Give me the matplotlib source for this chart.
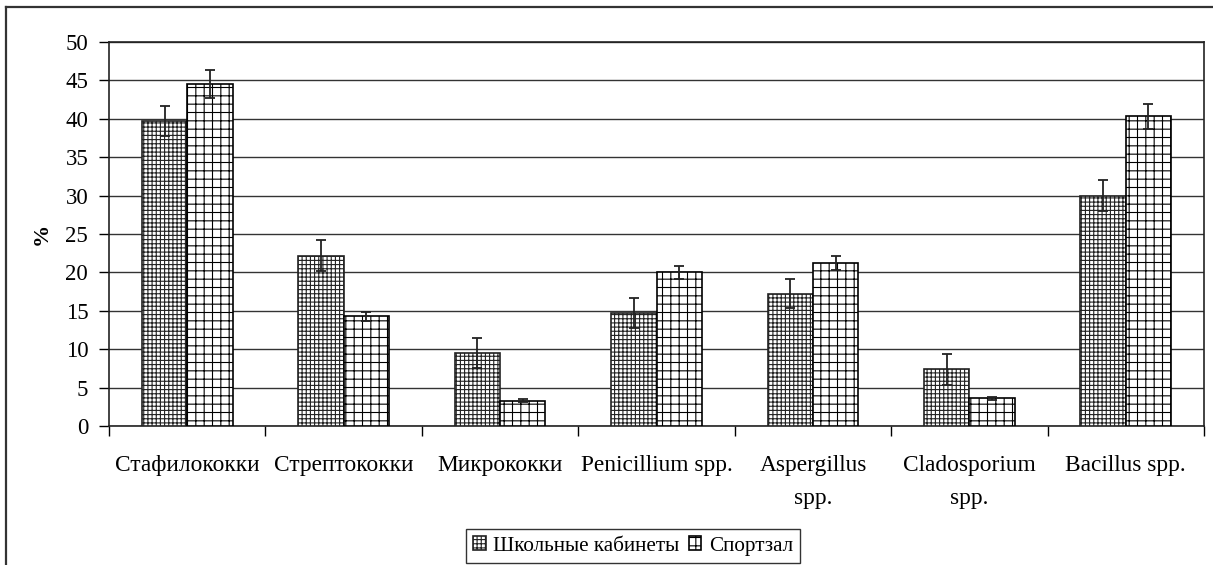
import numpy as np
import matplotlib
matplotlib.use("Agg")
import matplotlib.pyplot as plt
from matplotlib.lines import Line2D

# Доля микроорганизмов в воздухе помещений, %
categories = ["Стафилококки", "Стрептококки", "Микрококки", "Penicillium spp.",
              "Aspergillus\nspp.", "Cladosporium\nspp.", "Bacillus spp."]
school = [39.7, 22.2, 9.5, 14.7, 17.2, 7.4, 30.0]
school_err = [2.0, 2.0, 2.0, 2.0, 1.9, 2.0, 2.0]
gym = [44.5, 14.3, 3.3, 20.0, 21.2, 3.6, 40.3]
gym_err = [1.8, 0.6, 0.2, 0.8, 0.9, 0.2, 1.6]
series_names = ["Школьные кабинеты", "Спортзал"]

plt.rcParams['font.family'] = ['Liberation Serif', 'DejaVu Serif']
plt.rcParams['hatch.linewidth'] = 0.8

fig = plt.figure(figsize=(12.13, 5.65), dpi=100)
ax = fig.add_axes([0.0899, 0.246, 0.9027, 0.6797])

x = np.arange(len(categories))
w = 0.29

b1 = ax.bar(x - w / 2, school, w, color='white', edgecolor='#222222',
            hatch='++++', linewidth=1.2, zorder=3, label=series_names[0])
b2 = ax.bar(x + w / 2, gym, w, color='white', edgecolor='black',
            hatch='++', linewidth=1.2, zorder=3, label=series_names[1])
ax.errorbar(x - w / 2, school, yerr=school_err, fmt='none', ecolor='#222222',
            elinewidth=1.3, capsize=3.6, capthick=1.3, zorder=4)
ax.errorbar(x + w / 2, gym, yerr=gym_err, fmt='none', ecolor='#222222',
            elinewidth=1.3, capsize=3.6, capthick=1.3, zorder=4)

ax.set_xlim(-0.5, len(categories) - 0.5)
ax.set_ylim(0, 50)
ax.set_yticks(np.arange(0, 51, 5))
ax.yaxis.grid(True, color='#333333', linewidth=1.0, zorder=0)
ax.set_axisbelow(True)

# подписи категорий по центрам, засечки на границах групп
ax.set_xticks(x)
ax.set_xticklabels(categories, fontsize=16.8, linespacing=1.75)
ax.tick_params(axis='x', length=0, pad=21)
ax.set_xticks(np.arange(-0.5, len(categories)), minor=True)
ax.tick_params(axis='x', which='minor', length=7, width=1, direction='out')
ax.tick_params(axis='y', length=7, width=1, direction='out', labelsize=16.5, pad=8)

for s in ax.spines.values():
    s.set_color('#222222')
    s.set_linewidth(1.2)

ax.set_ylabel('%', fontsize=16, fontweight='bold', labelpad=10)

leg = fig.legend(handles=[b1, b2], labels=series_names, loc='upper center',
                 bbox_to_anchor=(0.5218, 0.0637), ncol=2, fontsize=15.2,
                 frameon=True, fancybox=False, handlelength=0.6, handleheight=0.6,
                 handletextpad=0.35, columnspacing=0.45, borderpad=0.35,
                 borderaxespad=0)
leg.get_frame().set_edgecolor('black')
leg.get_frame().set_linewidth(1.0)

# рамка области диаграммы
fig.add_artist(Line2D([6 / 1213, 6 / 1213], [-0.1, 1 - 7 / 565],
                      transform=fig.transFigure, color='#333333', linewidth=1.6))
fig.add_artist(Line2D([6 / 1213, 1.1], [1 - 7 / 565, 1 - 7 / 565],
                      transform=fig.transFigure, color='#333333', linewidth=1.6))

fig.savefig('out.png', dpi=100)
